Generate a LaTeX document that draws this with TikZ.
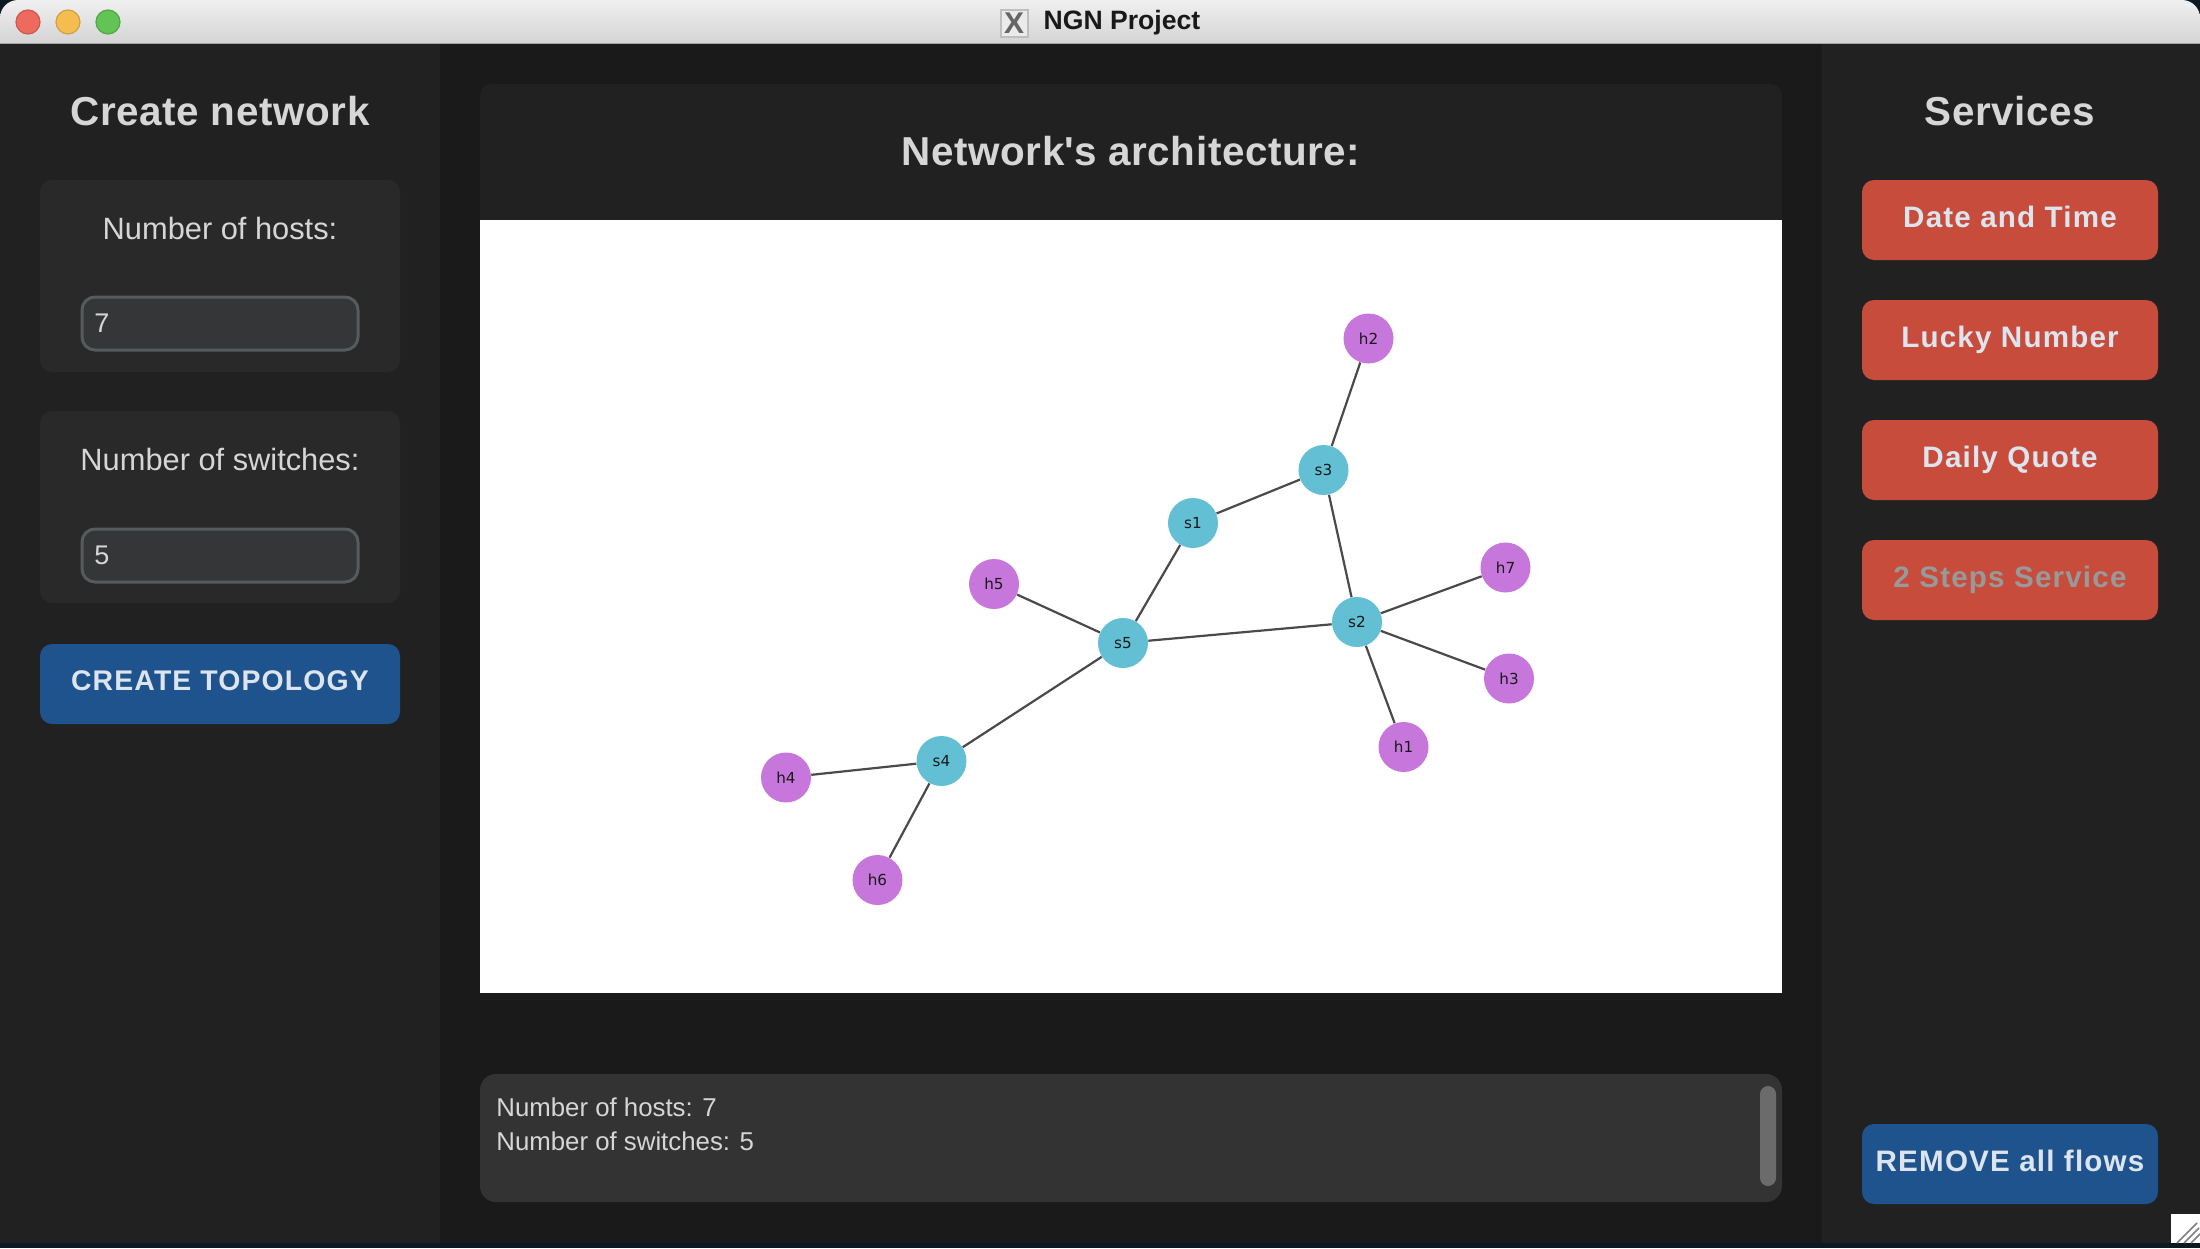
\documentclass[tikz,border=0pt]{standalone}
\usepackage{fontspec}
\setmainfont{Liberation Sans}
\newfontfamily\btnfont[LetterSpace=4]{Liberation Sans}
\newfontfamily\headfont[LetterSpace=1.5]{Liberation Sans}
\newfontfamily\plotfont{DejaVu Sans}
\definecolor{sidebg}{HTML}{212121}
\definecolor{mainbg}{HTML}{1A1A1A}
\definecolor{deskbg}{HTML}{0B1A22}
\definecolor{cardbg}{HTML}{292929}
\definecolor{entrybg}{HTML}{343638}
\definecolor{entryline}{HTML}{565B5E}
\definecolor{logbg}{HTML}{333333}
\definecolor{redbtn}{HTML}{C74C3C}
\definecolor{bluebtn}{HTML}{1F538D}
\definecolor{lighttext}{HTML}{DCE4EE}
\definecolor{headtext}{HTML}{D6D6D6}
\definecolor{switchcol}{HTML}{62BFD4}
\definecolor{hostcol}{HTML}{C777DC}
\definecolor{edgecol}{HTML}{4A4A4A}
\definecolor{closecol}{HTML}{EE6A5F}
\definecolor{mincol}{HTML}{F5BD4F}
\definecolor{zoomcol}{HTML}{61C454}
\tikzset{
  switchnode/.style={circle,fill=switchcol,minimum size=25pt,inner sep=0pt,font=\plotfont\fontsize{7.6}{8}\selectfont,text=black!90},
  hostnode/.style={switchnode,fill=hostcol},
  headlabel/.style={inner sep=0pt,text=headtext,font=\headfont\bfseries\fontsize{20.2}{24}\selectfont},
  cardlabel/.style={inner sep=0pt,text=headtext,font=\fontsize{15.4}{18}\selectfont},
  entrybox/.style={draw=entryline,line width=1.5pt,fill=entrybg,rounded corners=6.5pt,minimum width=138pt,minimum height=26.5pt,inner sep=0pt},
  entrytext/.style={inner sep=0pt,text=headtext,font=\fontsize{13.5}{16}\selectfont},
  btnbox/.style={rounded corners=6pt,minimum width=148pt,minimum height=40pt,inner sep=0pt,text=lighttext,font=\btnfont\bfseries\fontsize{14.8}{18}\selectfont},
  logtext/.style={inner sep=0pt,anchor=west,text=headtext,font=\fontsize{12.9}{16}\selectfont},
  lightdot/.style={circle,minimum size=12pt,inner sep=0pt,line width=0.6pt}
}
\begin{document}
\begin{tikzpicture}[x=0.5pt,y=-0.5pt]
\useasboundingbox (0,0) rectangle (2200,1248);
\fill [deskbg] (0,0) rectangle (2200,1248);
\fill [mainbg] (0,30) rectangle (2200,1243);
\fill [sidebg] (0,43) rectangle (440,1243);
\fill [sidebg] (1822,43) rectangle (2200,1243);
\shade [top color=black!6,bottom color=black!21,rounded corners=9pt] (0,0) -- (2200,0) -- (2200,60) -- (0,60) -- cycle;
\fill [mainbg] (440,44) rectangle (1822,70);
\fill [sidebg] (0,44) rectangle (440,70);
\fill [sidebg] (1822,44) rectangle (2200,70);
\draw [black!35,line width=0.8pt] (0,43.3) -- (2200,43.3);
\node [lightdot,fill=closecol,draw=closecol!85!black] (closedot) at (28,22) {};
\node [lightdot,fill=mincol,draw=mincol!85!black] (mindot) at (68,22) {};
\node [lightdot,fill=zoomcol,draw=zoomcol!85!black] (zoomdot) at (108,22) {};
\node [draw=black!25,fill=black!8,line width=1pt,minimum size=13.5pt,inner sep=0pt,text=black!60,font=\bfseries\fontsize{15}{15}\selectfont] (xicon) at (1014,23) {X};
\node [inner sep=0pt,text=black!90,font=\bfseries\fontsize{13.3}{16}\selectfont] (wintitle) at (1122,23) {NGN Project};

\node [headlabel] (createtitle) at (220,111) {Create network};
\fill [cardbg,rounded corners=6pt] (40,180) rectangle (400,372);
\node [cardlabel] (hostslabel) at (220,228) {Number of hosts:};
\node [entrybox] (hostsbox) at (220,323.5) {};
\node [entrytext,anchor=west] (hostsval) at (94,323) {7};
\fill [cardbg,rounded corners=6pt] (40,411) rectangle (400,603);
\node [cardlabel] (switcheslabel) at (220,459) {Number of switches:};
\node [entrybox] (switchesbox) at (220,555.5) {};
\node [entrytext,anchor=west] (switchesval) at (94,555) {5};
\node [btnbox,fill=bluebtn,minimum width=180pt,font=\btnfont\bfseries\fontsize{14.2}{18}\selectfont] (createbtn) at (220,684) {\raisebox{3pt}{CREATE TOPOLOGY}};

\fill [sidebg,rounded corners=6pt] (480,84) rectangle (1782,240);
\fill [white] (480,220) rectangle (1782,993);
\node [headlabel] (archtitle) at (1131,151) {Network\textquotesingle s architecture:};
\fill [logbg,rounded corners=8pt] (480,1074) rectangle (1782,1202);
\node [logtext] (logone) at (496,1107) {Number of hosts: 7};
\node [logtext] (logtwo) at (496,1141) {Number of switches: 5};
\fill [black!58,rounded corners=4pt] (1760,1086) rectangle (1776,1186);

\node [headlabel] (servicestitle) at (2010,111) {Services};
\node [btnbox,fill=redbtn] (datebtn) at (2010,220) {\raisebox{3pt}{Date and Time}};
\node [btnbox,fill=redbtn] (luckybtn) at (2010,340) {\raisebox{3pt}{Lucky Number}};
\node [btnbox,fill=redbtn] (quotebtn) at (2010,460) {\raisebox{3pt}{Daily Quote}};
\node [btnbox,fill=redbtn,text=black!40] (stepsbtn) at (2010,580) {\raisebox{3pt}{2 Steps Service}};
\node [btnbox,fill=bluebtn] (removebtn) at (2010,1164) {\raisebox{3pt}{REMOVE all flows}};

\fill [white] (2171,1214) rectangle (2200,1243);
\draw [black!50,line width=0.8pt] (2177,1243) -- (2197,1223) (2184,1243) -- (2199,1228) (2191,1243) -- (2200,1234);

\node [switchnode] (s1) at (1193,523) {s1};
\node [switchnode] (s2) at (1357,622) {s2};
\node [switchnode] (s3) at (1323.5,470) {s3};
\node [switchnode] (s4) at (941.5,761) {s4};
\node [switchnode] (s5) at (1123,643) {s5};
\node [hostnode] (h1) at (1403.5,747) {h1};
\node [hostnode] (h2) at (1368.5,338.5) {h2};
\node [hostnode] (h3) at (1509,678.5) {h3};
\node [hostnode] (h4) at (786,777.5) {h4};
\node [hostnode] (h5) at (994,584) {h5};
\node [hostnode] (h6) at (877.5,880) {h6};
\node [hostnode] (h7) at (1505.5,567.5) {h7};
\foreach \a/\b in {h2/s3,s3/s1,s3/s2,s1/s5,h5/s5,s5/s2,s5/s4,s2/h7,s2/h3,s2/h1,s4/h4,s4/h6}
  \draw [edgecol,line width=1.1pt] (\a) -- (\b);
\end{tikzpicture}
\end{document}
